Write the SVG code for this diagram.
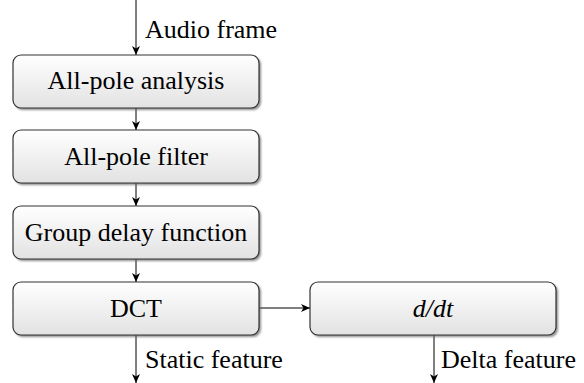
<svg xmlns="http://www.w3.org/2000/svg" width="584" height="383" viewBox="0 0 584 383">
<defs>
<linearGradient id="g" x1="0" y1="0" x2="0" y2="1">
<stop offset="0" stop-color="#ffffff"/>
<stop offset="1" stop-color="#e2e2e2"/>
</linearGradient>
<marker id="ah" markerWidth="10" markerHeight="8" refX="9" refY="4" orient="auto" markerUnits="userSpaceOnUse">
<path d="M0,0 L9,4 L0,8 L2.5,4 Z" fill="#000"/>
</marker>
<filter id="sh" x="-10%" y="-20%" width="120%" height="150%">
<feGaussianBlur stdDeviation="0.8"/>
</filter>
</defs>
<style>
.box{fill:url(#g);stroke:#333;stroke-width:1.2}
.shadow{fill:#666;opacity:0.75}
.t{font-family:"Liberation Serif","Times New Roman",serif;font-size:26px;fill:#000}
.c{text-anchor:middle}
.ln{stroke:#000;stroke-width:1;fill:none;marker-end:url(#ah)}
</style>
<g id="connectors">
<line class="ln" x1="136" y1="0" x2="136" y2="55"/>
<line class="ln" x1="136" y1="108" x2="136" y2="130"/>
<line class="ln" x1="136" y1="183" x2="136" y2="206"/>
<line class="ln" x1="136" y1="259" x2="136" y2="282"/>
<line class="ln" x1="259" y1="308" x2="310" y2="308"/>
<line class="ln" x1="136" y1="335" x2="136" y2="383"/>
<line class="ln" x1="434" y1="335" x2="434" y2="383"/>
<text class="t" x="145" y="38">Audio frame</text>
<text class="t" x="145" y="368">Static feature</text>
<text class="t" x="441" y="368">Delta feature</text>
</g>
<g id="n1">
<rect class="shadow" x="15" y="57" width="246" height="53" rx="8" filter="url(#sh)"/>
<rect class="box" x="13" y="55" width="246" height="53" rx="8"/>
<text class="t c" x="136" y="89">All-pole analysis</text>
</g>
<g id="n2">
<rect class="shadow" x="15" y="132" width="246" height="53" rx="8" filter="url(#sh)"/>
<rect class="box" x="13" y="130" width="246" height="53" rx="8"/>
<text class="t c" x="136" y="165">All-pole filter</text>
</g>
<g id="n3">
<rect class="shadow" x="15" y="208" width="246" height="53" rx="8" filter="url(#sh)"/>
<rect class="box" x="13" y="206" width="246" height="53" rx="8"/>
<text class="t c" x="136" y="241">Group delay function</text>
</g>
<g id="n4">
<rect class="shadow" x="15" y="284" width="246" height="53" rx="8" filter="url(#sh)"/>
<rect class="box" x="13" y="282" width="246" height="53" rx="8"/>
<text class="t c" x="136" y="317">DCT</text>
</g>
<g id="n5">
<rect class="shadow" x="312" y="284" width="246" height="53" rx="8" filter="url(#sh)"/>
<rect class="box" x="310" y="282" width="246" height="53" rx="8"/>
<text class="t c" x="433" y="317" font-style="italic">d/dt</text>
</g>
</svg>
